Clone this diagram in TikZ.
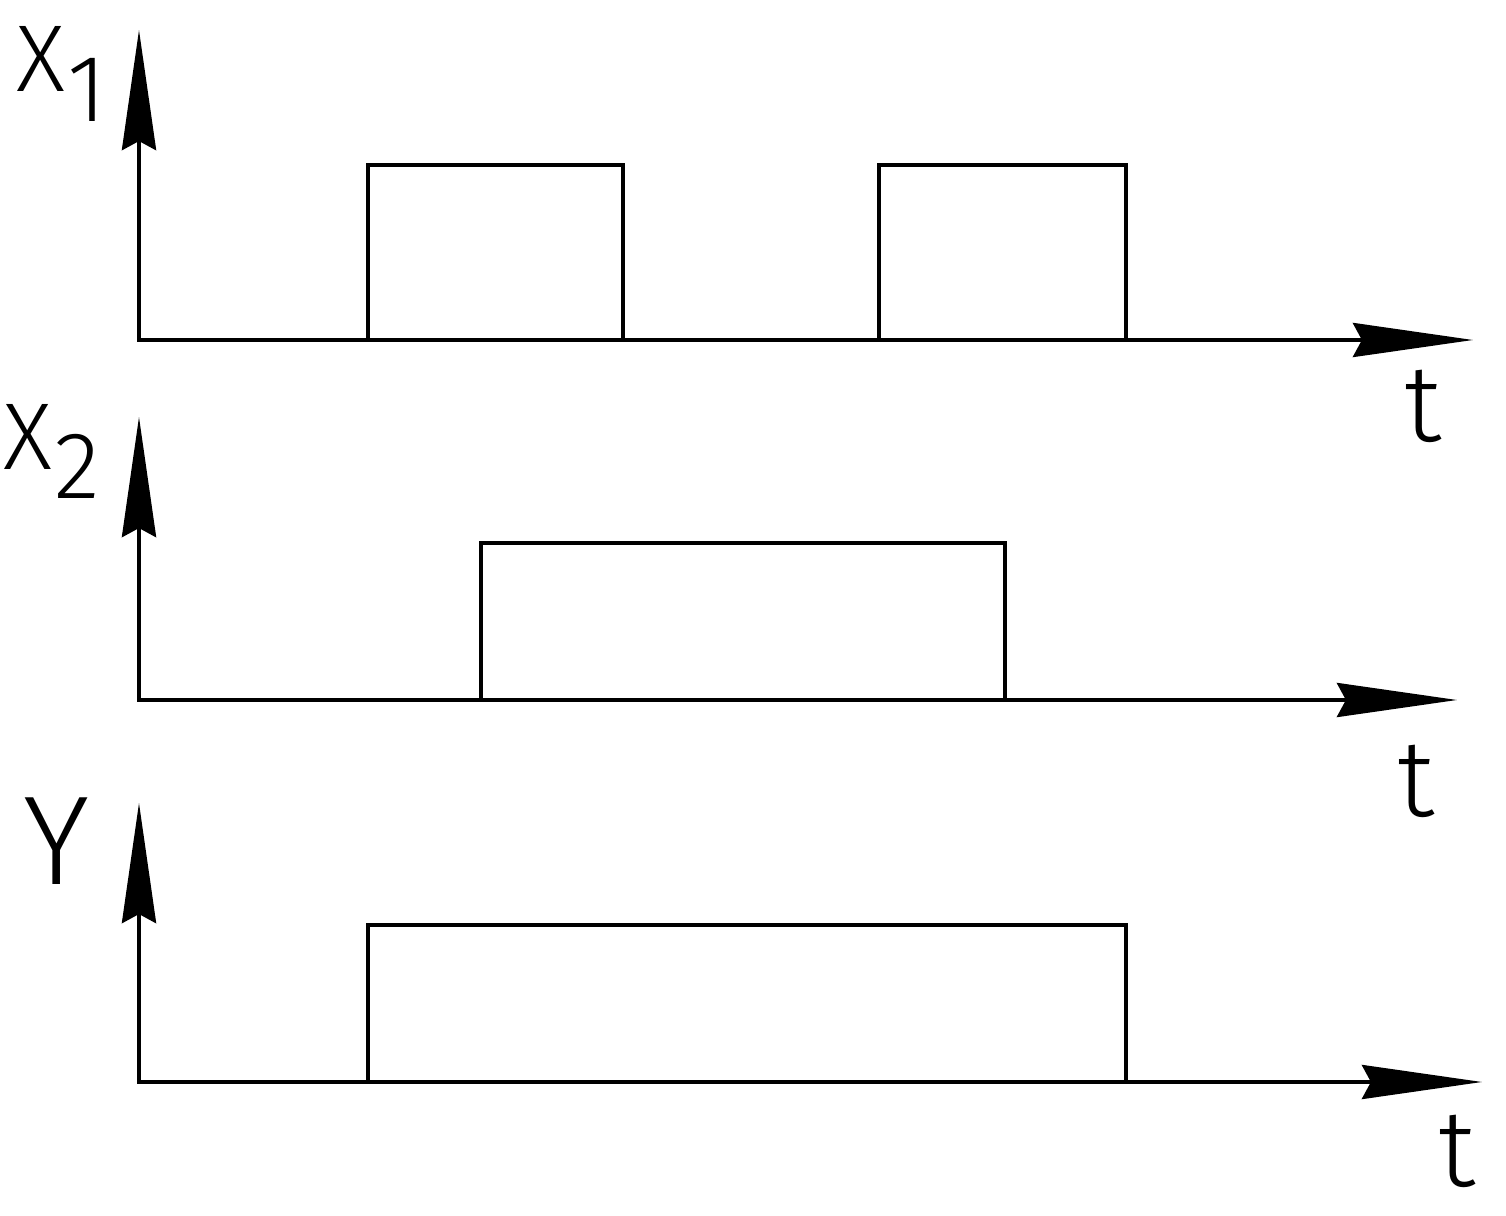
\documentclass[tikz,border=0pt]{standalone}
\usepackage{fontspec}
\setmainfont{Fira Sans Light}
\usetikzlibrary{arrows.meta}
\tikzset{
  axis/.style={line width=1.1pt, line join=miter,
    >={Stealth[length=12mm,width=3.4mm,inset=0.9mm]}, <->},
  pulse/.style={line width=1pt, line join=miter},
  lbl/.style={inner sep=0pt, font=\fontsize{27}{27}\selectfont},
  biglbl/.style={inner sep=0pt, font=\fontsize{36}{36}\selectfont},
  tlbl/.style={inner sep=0pt, font=\fontsize{31}{31}\selectfont},
}
\begin{document}
\begin{tikzpicture}[x=0.01cm,y=-0.01cm]
\useasboundingbox (0,0) rectangle (1506,1216);
% ---- X1 ----
\coordinate (o1) at (139,340);
\coordinate (v1) at (139,30);
\coordinate (h1) at (1473,340);
\draw[axis] (v1) -- (o1) -- (h1);
\draw[pulse] (368,340) -- (368,165) -- (623,165) -- (623,340);
\draw[pulse] (879,340) -- (879,165) -- (1126,165) -- (1126,340);
\node[lbl, anchor=base east] (x1) at (66,92) {X};
\node[lbl, anchor=base west] (x1s) at (67,122) {1};
\node[tlbl, anchor=base] (t1) at (1423,442) {t};
% ---- X2 ----
\coordinate (o2) at (139,700);
\coordinate (v2) at (139,417);
\coordinate (h2) at (1457,700);
\draw[axis] (v2) -- (o2) -- (h2);
\draw[pulse] (481,700) -- (481,543) -- (1005,543) -- (1005,700);
\node[lbl, anchor=base east] (x2) at (53,470) {X};
\node[lbl, anchor=base west] (x2s) at (54,499) {2};
\node[tlbl, anchor=base] (t2) at (1416,817) {t};
% ---- Y ----
\coordinate (o3) at (139,1082);
\coordinate (v3) at (139,803);
\coordinate (h3) at (1482,1082);
\draw[axis] (v3) -- (o3) -- (h3);
\draw[pulse] (368,1082) -- (368,925) -- (1126,925) -- (1126,1082);
\node[biglbl, anchor=base] (y) at (57,884) {Y};
\node[tlbl, anchor=base] (t3) at (1457,1186) {t};
\end{tikzpicture}
\end{document}
